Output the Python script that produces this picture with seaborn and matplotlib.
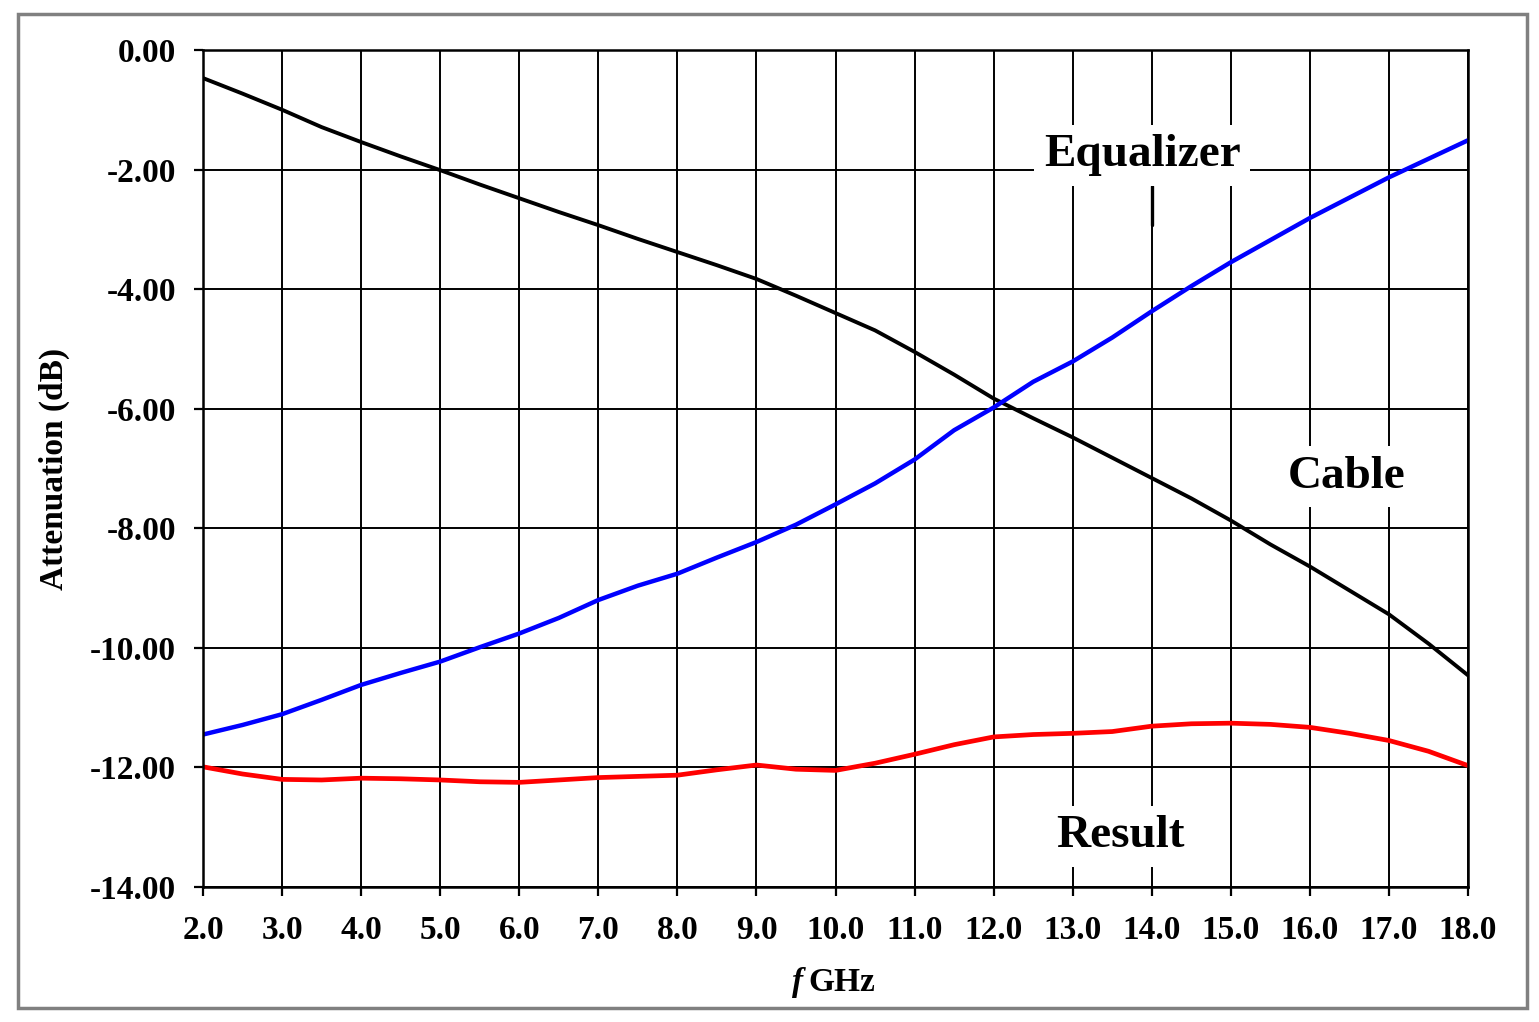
import numpy as np
import pandas as pd
import matplotlib
matplotlib.use('Agg')
import matplotlib.pyplot as plt
import seaborn as sns
from matplotlib.patches import Rectangle
from matplotlib.ticker import FormatStrFormatter, MultipleLocator

# datos (f en GHz, atenuacion en dB)
freq = [2.0, 2.5, 3.0, 3.5, 4.0, 4.5, 5.0, 5.5, 6.0, 6.5, 7.0, 7.5, 8.0, 8.5, 9.0,
        9.5, 10.0, 10.5, 11.0, 11.5, 12.0, 12.5, 13.0, 13.5, 14.0, 14.5, 15.0,
        15.5, 16.0, 16.5, 17.0, 17.5, 18.0]

black_curve = [-0.47, -0.73, -1.00, -1.29, -1.54, -1.78, -2.01, -2.25, -2.48, -2.71,
               -2.93, -3.16, -3.38, -3.60, -3.83, -4.11, -4.40, -4.69, -5.05, -5.43,
               -5.83, -6.16, -6.48, -6.82, -7.16, -7.50, -7.87, -8.27, -8.64, -9.04,
               -9.44, -9.93, -10.46]

blue_curve = [-11.45, -11.29, -11.11, -10.87, -10.62, -10.42, -10.23, -9.99, -9.76,
              -9.50, -9.20, -8.96, -8.76, -8.49, -8.23, -7.94, -7.60, -7.25, -6.85,
              -6.36, -5.98, -5.55, -5.21, -4.81, -4.37, -3.95, -3.55, -3.18, -2.81,
              -2.47, -2.13, -1.82, -1.51]

red_curve = [-11.99, -12.11, -12.20, -12.21, -12.18, -12.19, -12.21, -12.24, -12.25,
             -12.21, -12.17, -12.15, -12.13, -12.04, -11.96, -12.03, -12.05, -11.93,
             -11.78, -11.62, -11.49, -11.45, -11.43, -11.40, -11.31, -11.27, -11.26,
             -11.28, -11.33, -11.43, -11.55, -11.73, -11.97]

# etiquetas de texto (texto, x, y)
labels = [('Equalizer', 13.88, -1.76), ('Cable', 16.47, -7.14), ('Result', 13.6, -13.15)]

df = pd.DataFrame({'f': freq, 'black': black_curve, 'blue': blue_curve, 'red': red_curve})

sns.set_style('white')
plt.rcParams['font.family'] = ['Liberation Serif', 'DejaVu Serif']
plt.rcParams['font.weight'] = 'bold'
plt.rcParams['text.color'] = 'black'
plt.rcParams['axes.labelcolor'] = 'black'
plt.rcParams['xtick.color'] = 'black'
plt.rcParams['ytick.color'] = 'black'

fig = plt.figure(figsize=(15.39, 10.22), dpi=100)
fig.patch.set_facecolor('white')
ax = fig.add_axes([0.1319, 0.1321, 0.8220, 0.8190])

ax.grid(True, color='black', linewidth=1.4)
ax.set_axisbelow(True)

sns.lineplot(data=df, x='f', y='black', color='black', linewidth=2.8, ax=ax)
sns.lineplot(data=df, x='f', y='blue', color='#0000ff', linewidth=3.2, ax=ax)
sns.lineplot(data=df, x='f', y='red', color='#ff0000', linewidth=3.4, ax=ax)

ax.set_xlim(2, 18)
ax.set_ylim(-14, 0)
ax.xaxis.set_major_locator(MultipleLocator(1))
ax.yaxis.set_major_locator(MultipleLocator(2))
ax.xaxis.set_major_formatter(FormatStrFormatter('%.1f'))
ax.yaxis.set_major_formatter(FormatStrFormatter('%.2f'))
ax.tick_params(axis='both', direction='out', length=6.5, width=1.6, color='black',
               labelcolor='black', labelsize=24, bottom=True, left=True)
ax.tick_params(axis='y', pad=13)
ax.tick_params(axis='x', pad=14)
for lab in ax.get_xticklabels() + ax.get_yticklabels():
    lab.set_fontweight('bold')
for sp in ax.spines.values():
    sp.set_visible(True)
    sp.set_color('black')
    sp.set_linewidth(1.8)

ax.set_ylabel('Attenuation (dB)', fontsize=24, fontweight='bold', color='black',
              labelpad=14)
ax.set_xlabel('')
fig.text(0.522, 0.039, 'f', fontsize=24, fontweight='bold', fontstyle='italic',
         ha='right', va='center', color='black')
fig.text(0.5255, 0.039, 'GHz', fontsize=24, fontweight='bold', ha='left',
         va='center', color='black')

# trazo bajo la etiqueta Equalizer
ax.plot([14, 14], [-2.27, -2.93], color='black', linewidth=2.4)

for txt, x, y in labels:
    ax.text(x, y, txt, fontsize=34, fontweight='bold', ha='center', va='center',
            color='black',
            bbox=dict(boxstyle='square,pad=0.2', facecolor='white', edgecolor='none'),
            zorder=5)

# marco gris alrededor de la figura
fig.patches.append(Rectangle((0.0115, 0.014), 0.981, 0.972, transform=fig.transFigure,
                             fill=False, edgecolor='#808080', linewidth=2.5))

fig.savefig('out.png', dpi=100)
